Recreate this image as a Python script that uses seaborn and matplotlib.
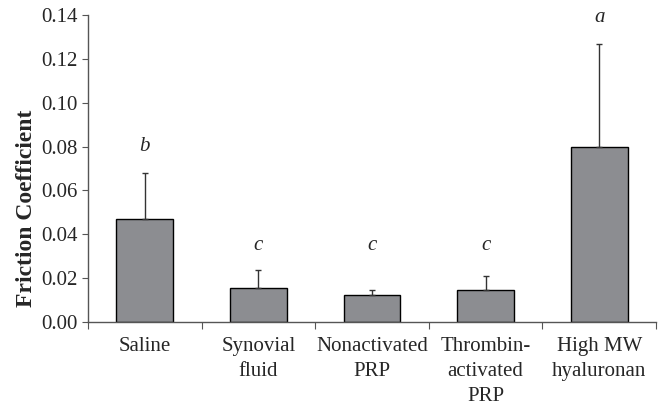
import matplotlib
matplotlib.use("Agg")
import matplotlib.pyplot as plt
import seaborn as sns
import numpy as np
import pandas as pd
from matplotlib.ticker import FixedLocator, NullFormatter

groups = ["Saline", "Synovial\nfluid", "Nonactivated\nPRP", "Thrombin-\nactivated\nPRP", "High MW\nhyaluronan"]
friction = [0.047, 0.0156, 0.0123, 0.0146, 0.080]
sd_upper = [0.0208, 0.0082, 0.0023, 0.0065, 0.0467]
letters = ["b", "c", "c", "c", "a"]
letter_y = [0.0800, 0.0350, 0.0350, 0.0350, 0.1390]

df = pd.DataFrame({"group": groups, "friction": friction})

sns.set_style("ticks")
plt.rcParams["font.family"] = ["Liberation Serif", "DejaVu Serif"]
plt.rcParams["font.size"] = 15

fig = plt.figure(figsize=(6.62, 4.08), dpi=100)
ax = fig.add_axes([0.133, 0.211, 0.858, 0.752])

sns.barplot(data=df, x="group", y="friction", color="#8c8d91", width=0.5,
            edgecolor="black", linewidth=1.0, saturation=1, errorbar=None, ax=ax)

xs = np.arange(len(groups))
ax.errorbar(xs, friction, yerr=[np.zeros(len(groups)), sd_upper], fmt="none",
            ecolor="#333333", elinewidth=1.0, capsize=2.5, capthick=1.0)

for x, y, t in zip(xs, letter_y, letters):
    ax.text(x, y, t, ha="center", va="center", fontstyle="italic", fontsize=15)

ax.set_xlim(-0.5, len(groups) - 0.5)
ax.set_ylim(0, 0.14)
ax.set_yticks(np.arange(0, 0.141, 0.02))
ax.set_yticklabels([f"{v:.2f}" for v in np.arange(0, 0.141, 0.02)])

# category labels on minor ticks, tick marks at the group boundaries
ax.xaxis.set_major_locator(FixedLocator(np.arange(-0.5, len(groups), 1.0)))
ax.xaxis.set_major_formatter(NullFormatter())
ax.xaxis.set_minor_locator(FixedLocator(xs))
ax.set_xticklabels(groups, minor=True)
for lbl in ax.get_xticklabels(minor=True):
    lbl.set_linespacing(1.42)
ax.tick_params(axis="x", which="minor", length=0, pad=11, labelsize=15)
ax.tick_params(axis="x", which="major", length=5, direction="out", color="#555555")
ax.tick_params(axis="y", length=4, direction="out", labelsize=15, color="#555555")

ax.set_xlabel("")
ax.set_ylabel("Friction Coefficient", fontweight="bold", fontsize=17)
ax.yaxis.set_label_coords(-0.09, 0.37)
for s in ["top", "right"]:
    ax.spines[s].set_visible(False)
for s in ["left", "bottom"]:
    ax.spines[s].set_color("#555555")
    ax.spines[s].set_linewidth(1.0)

fig.savefig("out.png", dpi=100)
